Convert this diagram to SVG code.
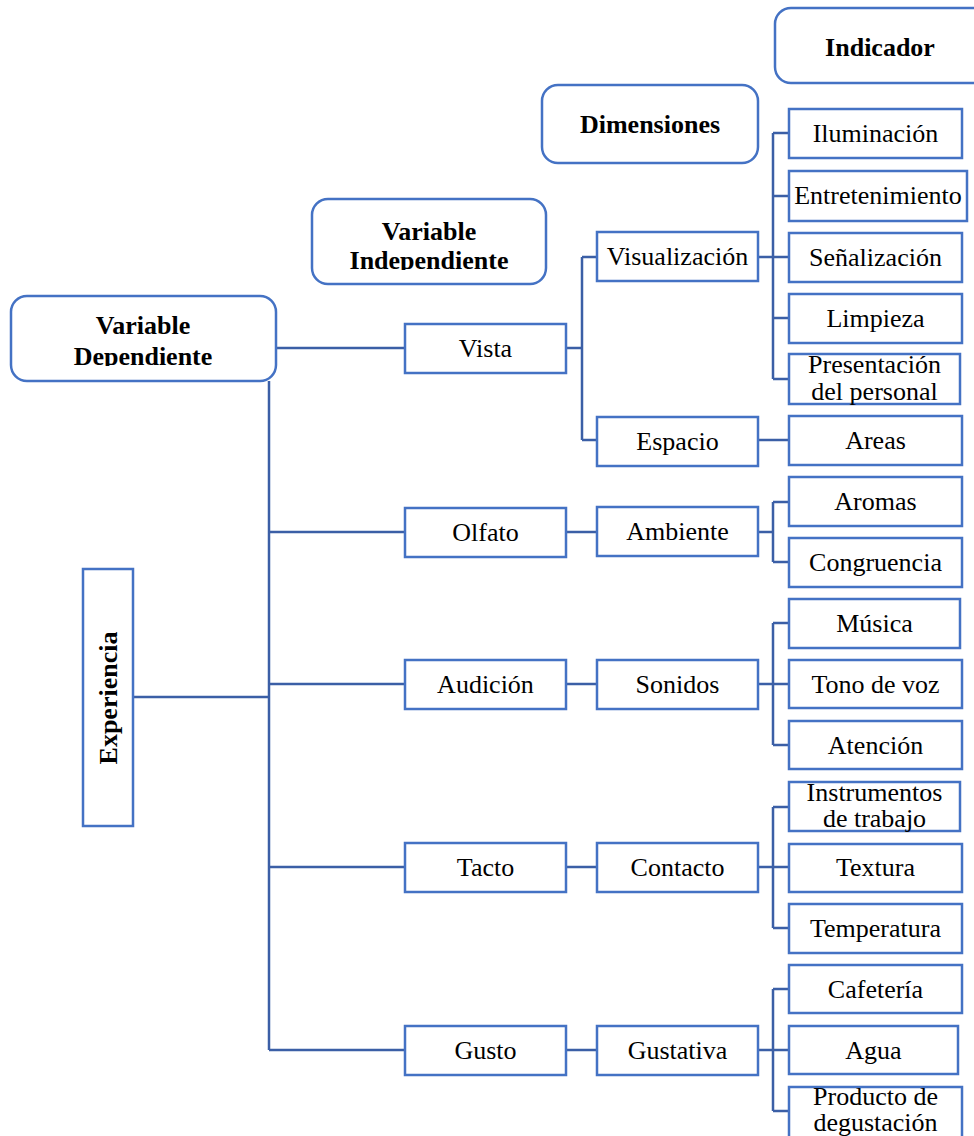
<svg xmlns="http://www.w3.org/2000/svg" width="974" height="1136" viewBox="0 0 974 1136">
<style>
.box{fill:#fff;stroke:#4472C4;stroke-width:2.5}
.conn{fill:none;stroke:#3B5FA6;stroke-width:2.5}
.t{font-family:"Liberation Serif","Times New Roman",serif;font-size:26px;text-anchor:middle;fill:#000}
.b{font-weight:bold}
</style>
<defs>
<clipPath id="clipDep"><rect x="10" y="296" width="266" height="70"/></clipPath>
<clipPath id="clipInd"><rect x="311" y="199" width="236" height="71"/></clipPath>
</defs>
<rect width="974" height="1136" fill="#fff"/>
<g id="connectors">
<path class="conn" d="M276 348H405M269 381V1050M269 532H405M269 684H405M269 867H405M269 1050H405M133 697H269"/>
<path class="conn" d="M566 348H582M582 257V440M582 257H597M582 440H597"/>
<path class="conn" d="M566 532H597M566 684H597M566 867H597M566 1050H597"/>
<path class="conn" d="M758 257H773M773 133V379M773 133H789M773 196H789M773 257H789M773 318H789M773 379H789"/>
<path class="conn" d="M758 440H789"/>
<path class="conn" d="M758 532H773M773 502V562M773 502H789M773 562H789"/>
<path class="conn" d="M758 684H773M773 623V745M773 623H789M773 684H789M773 745H789"/>
<path class="conn" d="M758 867H773M773 807V928M773 807H789M773 867H789M773 928H789"/>
<path class="conn" d="M758 1050H773M773 989V1111M773 989H789M773 1050H789M773 1111H789"/>
</g>
<g id="indicador"><rect class="box" x="775" y="8" width="220" height="75" rx="16"/><text class="t b" x="880" y="56">Indicador</text></g>
<g id="dimensiones"><rect class="box" x="542" y="85" width="216" height="78" rx="16"/><text class="t b" x="650" y="133">Dimensiones</text></g>
<g id="var-indep"><rect class="box" x="312" y="199" width="234" height="85" rx="16"/><g clip-path="url(#clipInd)"><text class="t b" x="429" y="240">Variable</text><text class="t b" x="429" y="269">Independiente</text></g></g>
<g id="var-dep"><rect class="box" x="11" y="296" width="265" height="85" rx="16"/><g clip-path="url(#clipDep)"><text class="t b" x="143" y="334">Variable</text><text class="t b" x="143" y="365">Dependiente</text></g></g>
<g id="experiencia"><rect class="box" x="83" y="569" width="50" height="257"/><text class="t b" transform="translate(117 698) rotate(-90)">Experiencia</text></g>
<g id="vista"><rect class="box" x="405" y="324" width="161" height="49"/><text class="t" x="485.5" y="357">Vista</text></g>
<g id="olfato"><rect class="box" x="405" y="508" width="161" height="49"/><text class="t" x="485.5" y="541">Olfato</text></g>
<g id="audicion"><rect class="box" x="405" y="660" width="161" height="49"/><text class="t" x="485.5" y="693">Audición</text></g>
<g id="tacto"><rect class="box" x="405" y="843" width="161" height="49"/><text class="t" x="485.5" y="876">Tacto</text></g>
<g id="gusto"><rect class="box" x="405" y="1026" width="161" height="49"/><text class="t" x="485.5" y="1059">Gusto</text></g>
<g id="visualizacion"><rect class="box" x="597" y="232" width="161" height="49"/><text class="t" x="677.5" y="265">Visualización</text></g>
<g id="espacio"><rect class="box" x="597" y="417" width="161" height="49"/><text class="t" x="677.5" y="450">Espacio</text></g>
<g id="ambiente"><rect class="box" x="597" y="507" width="161" height="49"/><text class="t" x="677.5" y="540">Ambiente</text></g>
<g id="sonidos"><rect class="box" x="597" y="660" width="161" height="49"/><text class="t" x="677.5" y="693">Sonidos</text></g>
<g id="contacto"><rect class="box" x="597" y="843" width="161" height="49"/><text class="t" x="677.5" y="876">Contacto</text></g>
<g id="gustativa"><rect class="box" x="597" y="1026" width="161" height="49"/><text class="t" x="677.5" y="1059">Gustativa</text></g>
<g id="iluminacion"><rect class="box" x="789" y="109" width="173" height="49"/><text class="t" x="875.5" y="142">Iluminación</text></g>
<g id="entretenimiento"><rect class="box" x="789" y="171" width="178" height="50"/><text class="t" x="878" y="204">Entretenimiento</text></g>
<g id="senalizacion"><rect class="box" x="789" y="233" width="173" height="49"/><text class="t" x="875.5" y="266">Señalización</text></g>
<g id="limpieza"><rect class="box" x="789" y="294" width="173" height="49"/><text class="t" x="875.5" y="327">Limpieza</text></g>
<g id="presentacion"><rect class="box" x="789" y="354" width="171" height="50"/><text class="t" x="874.5" y="373">Presentación</text><text class="t" x="874.5" y="400">del personal</text></g>
<g id="areas"><rect class="box" x="789" y="416" width="173" height="49"/><text class="t" x="875.5" y="449">Areas</text></g>
<g id="aromas"><rect class="box" x="789" y="477" width="173" height="49"/><text class="t" x="875.5" y="510">Aromas</text></g>
<g id="congruencia"><rect class="box" x="789" y="538" width="173" height="49"/><text class="t" x="875.5" y="571">Congruencia</text></g>
<g id="musica"><rect class="box" x="789" y="599" width="171" height="49"/><text class="t" x="874.5" y="632">Música</text></g>
<g id="tono"><rect class="box" x="789" y="660" width="173" height="48"/><text class="t" x="875.5" y="693">Tono de voz</text></g>
<g id="atencion"><rect class="box" x="789" y="721" width="173" height="48"/><text class="t" x="875.5" y="754">Atención</text></g>
<g id="instrumentos"><rect class="box" x="789" y="782" width="171" height="49"/><text class="t" x="874.5" y="801">Instrumentos</text><text class="t" x="874.5" y="827">de trabajo</text></g>
<g id="textura"><rect class="box" x="789" y="844" width="173" height="48"/><text class="t" x="875.5" y="876">Textura</text></g>
<g id="temperatura"><rect class="box" x="789" y="904" width="173" height="49"/><text class="t" x="875.5" y="937">Temperatura</text></g>
<g id="cafeteria"><rect class="box" x="789" y="965" width="173" height="48"/><text class="t" x="875.5" y="998">Cafetería</text></g>
<g id="agua"><rect class="box" x="789" y="1026" width="169" height="48"/><text class="t" x="873.5" y="1059">Agua</text></g>
<g id="producto"><rect class="box" x="789" y="1087" width="173" height="60"/><text class="t" x="875.5" y="1105">Producto de</text><text class="t" x="875.5" y="1131">degustación</text></g>
</svg>
